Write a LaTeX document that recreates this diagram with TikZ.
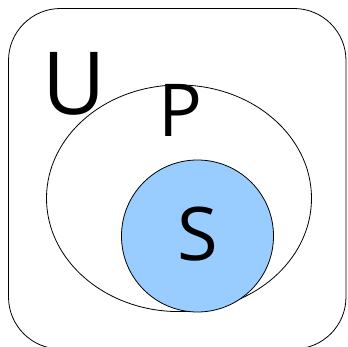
\documentclass[tikz,border=0pt]{standalone}
\usepackage{fontspec}
\setsansfont{Open Sans}
\usepackage{tikz}
\definecolor{setblue}{RGB}{153,204,255}

\begin{document}
\begin{tikzpicture}[
  x=1pt, y=-1pt,
  setline/.style={draw=black, line width=0.8pt},
  setlabel/.style={anchor=base, inner sep=0pt,
                   font=\sffamily\fontsize{#1}{#1}\selectfont},
]
\useasboundingbox (0,0) rectangle (348,347);

%% Universe
\draw[setline, rounded corners=52pt] (8.5,8.5) rectangle (346,349);

%% P and S
\draw[setline] (179,198.3) ellipse [x radius=132.5pt, y radius=113.3pt];
\draw[setline, fill=setblue] (197.5,236) circle [radius=76pt];

%% Labels
\node[setlabel=87] (u) at (74,115) {U};
\node[setlabel=73] (p) at (180,137) {P};
\node[setlabel=74] (s) at (197.5,261) {S};

\end{tikzpicture}
\end{document}
